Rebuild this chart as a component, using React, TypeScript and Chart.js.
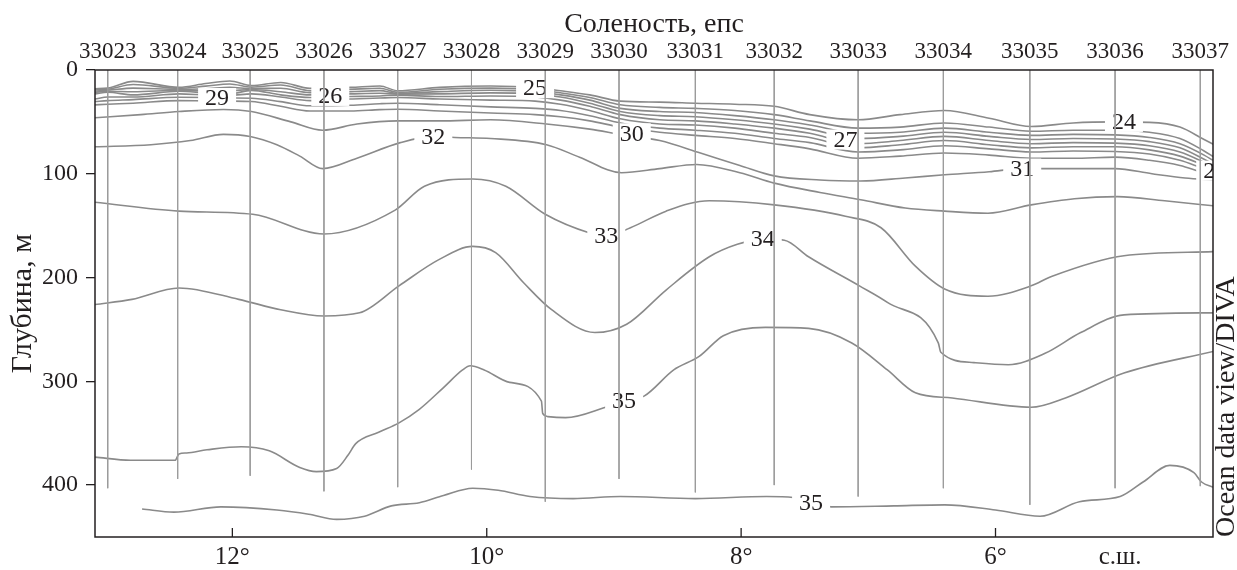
import React, { useEffect, useRef } from 'react';
import { Chart, registerables } from 'chart.js';

Chart.register(...registerables);

const W = 1237;
const H = 570;
const SERIF = '"Liberation Serif", "Times New Roman", serif';
const TEXT = '#231f20';
const CONTOUR = '#8a8a8a';
const STATION = '#9c9c9c';

// axes
const X_MIN = 4.29;
const X_MAX = 13.08;
const Y_MIN = 0;
const Y_MAX = 450;
const xTickValues = [12, 10, 8, 6];
const xUnitLabel = 'с.ш.';
const xUnitLat = 5.02;
const yTickValues = [0, 100, 200, 300, 400];
const topTitle = 'Соленость, епс';
const yTitle = 'Глубина, м';
const sourceNote = 'Ocean data view/DIVA';

// stations (top axis) and cast depths
const stationNames = ['33023', '33024', '33025', '33026', '33027', '33028', '33029', '33030', '33031', '33032', '33033', '33034', '33035', '33036', '33037'];
const stationLats = [12.98, 12.43, 11.86, 11.28, 10.70, 10.12, 9.54, 8.96, 8.36, 7.74, 7.08, 6.41, 5.73, 5.06, 4.39];
const stationBottoms = [403, 394, 391, 406, 402, 385, 416, 394, 407, 400, 411, 403, 419, 403, 401];

// upper (thermocline) isohalines share latitude nodes
const clusterLats = [13.08, 12.98, 12.78, 12.42, 12.21, 12.02, 11.85, 11.62, 11.39, 11.07, 10.84, 10.70, 10.37, 9.97, 9.62, 9.42, 9.19, 8.95, 8.64, 8.36, 8.05, 7.74, 7.46, 7.08, 6.75, 6.40, 6.05, 5.72, 5.39, 5.06, 4.79, 4.55, 4.36, 4.28];
const iso24Depth = [18, 17.5, 11, 16.7, 13, 10.6, 15, 12, 17.6, 16.7, 15.4, 20, 16.7, 15.4, 17, 20, 24, 30, 31, 32, 33, 35, 43, 48, 43, 39, 46.5, 54.5, 51, 50, 50.5, 55, 67, 72];
const iso25Depth = [19, 18.5, 14, 17.6, 15.5, 13.5, 16.5, 14.4, 19.9, 18.6, 17.6, 21.5, 18.6, 17.5, 19, 22, 26.5, 33.5, 36, 37, 39, 43, 49, 56, 55, 51, 55, 59, 58, 58, 60, 66, 78, 84];
const iso26Depth = [20.2, 19.5, 17.5, 18.6, 18, 16.7, 17.9, 17.6, 21.8, 20.8, 19.9, 22.4, 20.8, 19.5, 21, 24, 29, 37, 40, 41, 44, 48, 53, 61, 60, 56, 60, 63, 62, 62.5, 65, 71, 82, 88];
const iso27Depth = [21.5, 20.5, 21, 19.5, 20, 19.9, 18.8, 21, 24, 23, 22.4, 23.2, 23, 22, 23, 26, 32, 40, 44, 45, 48, 52, 57, 66, 64, 60, 64, 67, 66, 66.5, 69, 75, 86, 91];
const iso28Depth = [23, 21.5, 24, 20.5, 22, 23, 19.6, 24, 26.5, 25.6, 25, 24.2, 25.6, 25, 26, 29, 35, 43, 48, 49, 52, 56, 61, 71, 68, 64, 68, 71, 70, 70.5, 73, 79, 89, 94];
const iso29Depth = [28, 26, 26, 23, 24, 24.5, 23, 26, 29.5, 28, 27, 26.5, 28, 29, 30, 33, 39, 47, 52, 53, 56, 61, 65, 75, 72, 68, 72, 75, 74, 74, 77, 83, 92, 96];
const iso30Depth = [30.4, 29.5, 28.5, 26.3, 26.5, 27, 27.2, 30.5, 34.5, 34, 32.5, 32, 33.5, 35.5, 37, 39, 44, 51, 56, 58, 61, 66, 70, 79, 77, 73, 76, 79, 78, 78.5, 81, 87, 95, 98];
const iso30bDepth = [33.6, 33, 32, 29.5, 29.8, 30, 30.4, 35, 39.5, 39.5, 38.2, 37.8, 39.5, 41.5, 43, 45, 49, 55, 60, 63, 66, 71, 76, 85, 83, 80, 82, 85, 85, 84, 87, 92, 99, 101];

// deeper isohalines: [latitude °N, depth m]
type Pt = [number, number];
const iso31: Pt[] = [[13.08, 46], [12.72, 43], [12.42, 40], [12.07, 38], [11.85, 40], [11.54, 50], [11.29, 58], [11.02, 52], [10.70, 49], [10.37, 49], [9.97, 48], [9.53, 52], [9.19, 57], [8.95, 62], [8.64, 68], [8.32, 80], [8.01, 92], [7.74, 102], [7.38, 106], [7.06, 107], [6.71, 104], [6.40, 101], [6.05, 98], [5.79, 95], [5.57, 95], [5.06, 95], [4.77, 100], [4.51, 104], [4.28, 106]];
const iso32: Pt[] = [[13.08, 74], [12.64, 72], [12.33, 68], [12.07, 62], [11.86, 64], [11.65, 72], [11.47, 83], [11.29, 95], [11.02, 85], [10.68, 70], [10.42, 64], [10.25, 65], [9.97, 66], [9.53, 72], [9.27, 84], [8.94, 99], [8.64, 95], [8.35, 91], [8.01, 99], [7.74, 109], [7.38, 118], [7.06, 125], [6.71, 133], [6.40, 136], [6.06, 138], [5.72, 130], [5.38, 124], [5.04, 122], [4.67, 126], [4.28, 131]];
const iso33: Pt[] = [[13.08, 127.5], [12.42, 136], [11.84, 139], [11.28, 158], [10.72, 135], [10.49, 112], [10.11, 105], [9.85, 112], [9.54, 139], [9.19, 157], [9.06, 160], [8.87, 152], [8.59, 136], [8.25, 126], [7.74, 130], [7.18, 141], [6.90, 152], [6.63, 189], [6.40, 211], [6.06, 218], [5.72, 208], [5.56, 199], [4.99, 179], [4.28, 175]];
const iso34: Pt[] = [[13.08, 226], [12.79, 221], [12.42, 210], [11.95, 221], [11.62, 231], [11.28, 237], [11.00, 234], [10.69, 208], [10.38, 183], [10.11, 170], [9.93, 176], [9.71, 205], [9.49, 231], [9.15, 253], [8.90, 245], [8.59, 212], [8.25, 180], [8.03, 168], [7.83, 163], [7.66, 164], [7.47, 180], [7.07, 208], [6.85, 224], [6.45, 263], [6.43, 272], [6.17, 282], [5.90, 284], [5.61, 273], [5.33, 253], [4.99, 236], [4.28, 234]];
const iso35Upper: Pt[] = [[13.08, 373], [12.80, 376], [12.45, 376], [12.42, 370], [12.36, 369], [12.20, 366], [11.93, 363], [11.71, 367], [11.47, 383], [11.34, 387], [11.18, 384], [11.09, 371], [11.03, 360], [10.85, 349], [10.69, 340], [10.53, 327], [10.34, 306], [10.19, 289], [10.13, 285], [10.02, 289], [9.82, 301], [9.57, 319], [9.56, 331], [9.52, 334], [9.38, 335], [9.04, 324], [8.76, 314], [8.53, 289], [8.33, 276], [8.14, 256], [7.81, 248], [7.47, 249], [7.13, 263], [6.85, 289], [6.63, 311], [6.34, 316], [5.72, 325], [5.45, 316], [4.99, 292], [4.28, 271]];
const iso35Lower: Pt[] = [[12.71, 423], [12.46, 426], [12.09, 421], [11.65, 424], [11.40, 428], [11.18, 433], [10.96, 430], [10.75, 420], [10.53, 417], [10.34, 410], [10.11, 403], [9.91, 405], [9.66, 411], [9.32, 413], [8.95, 411], [8.36, 413], [7.80, 411], [7.59, 412], [7.29, 421], [6.80, 420], [6.40, 419], [6.00, 424], [5.65, 430], [5.34, 416], [5.02, 411], [4.84, 397], [4.63, 381], [4.44, 388], [4.38, 397], [4.29, 402]];

// contour labels
const labelTexts = ['29', '26', '25', '30', '27', '24', '31', '2', '32', '33', '34', '35', '35'];
const labelLats = [12.12, 11.23, 9.62, 8.86, 7.18, 4.99, 5.79, 4.32, 10.42, 9.06, 7.83, 8.92, 7.45];
const labelDepths = [27, 25, 17.5, 61, 67, 50, 95, 97, 64, 160, 163, 319, 417];

const clusterDepths = [iso24Depth, iso25Depth, iso26Depth, iso27Depth, iso28Depth, iso29Depth, iso30Depth, iso30bDepth];
const otherLines: Pt[][] = [iso31, iso32, iso33, iso34, iso35Upper, iso35Lower];

const overlayPlugin = {
  id: 'overlay',
  afterDatasetDraw(chart: any, args: any) {
    if (args.index !== 0) return;
    const { ctx, chartArea: a, scales } = chart;
    ctx.save();
    ctx.beginPath();
    ctx.rect(a.left, a.top, a.right - a.left, a.bottom - a.top);
    ctx.clip();
    ctx.font = `24px ${SERIF}`;
    ctx.textAlign = 'center';
    ctx.textBaseline = 'middle';
    labelTexts.forEach((t, i) => {
      const px = scales.x.getPixelForValue(labelLats[i]);
      const py = scales.y.getPixelForValue(labelDepths[i]);
      const w = ctx.measureText(t).width + 14;
      ctx.fillStyle = '#ffffff';
      ctx.fillRect(px - w / 2, py - 10, w, 20);
      ctx.fillStyle = TEXT;
      ctx.fillText(t, px, py + 1);
    });
    ctx.restore();
  },
  afterDatasetsDraw(chart: any) {
    const { ctx, chartArea: a, scales } = chart;
    ctx.save();
    ctx.strokeStyle = TEXT;
    ctx.lineWidth = 1.5;
    ctx.strokeRect(a.left, a.top, a.right - a.left, a.bottom - a.top);
    ctx.lineWidth = 1.3;
    xTickValues.forEach((v) => {
      const px = scales.x.getPixelForValue(v);
      ctx.beginPath();
      ctx.moveTo(px, a.bottom);
      ctx.lineTo(px, a.bottom - 9);
      ctx.stroke();
    });
    ctx.translate(a.right + 14, a.bottom);
    ctx.rotate(-Math.PI / 2);
    ctx.font = `28px ${SERIF}`;
    ctx.textAlign = 'left';
    ctx.textBaseline = 'middle';
    ctx.fillStyle = TEXT;
    ctx.fillText(sourceNote, 0, 0);
    ctx.restore();
  },
};

export default function App() {
  const ref = useRef<HTMLCanvasElement | null>(null);

  useEffect(() => {
    if (!ref.current) return;
    const contourStyle = {
      borderColor: CONTOUR,
      borderWidth: 1.6,
      pointRadius: 0,
      fill: false,
      cubicInterpolationMode: 'monotone' as const,
      order: 2,
    };
    const datasets: any[] = [];
    clusterDepths.forEach((dep) => {
      datasets.push({ ...contourStyle, data: clusterLats.map((x, i) => ({ x, y: dep[i] })) });
    });
    otherLines.forEach((line) => {
      datasets.push({ ...contourStyle, data: line.map(([x, y]) => ({ x, y })) });
    });
    stationLats.forEach((lat, i) => {
      datasets.push({
        borderColor: STATION,
        borderWidth: 1,
        pointRadius: 0,
        fill: false,
        tension: 0,
        order: 1,
        data: [{ x: lat, y: 0 }, { x: lat, y: stationBottoms[i] }],
      });
    });

    const chart = new Chart(ref.current, {
      type: 'line',
      data: { datasets },
      options: {
        animation: false,
        responsive: false,
        events: [],
        layout: { padding: { left: 0, right: 24, top: 0, bottom: 0 } },
        plugins: { legend: { display: false }, tooltip: { enabled: false } },
        scales: {
          x: {
            type: 'linear',
            position: 'bottom',
            min: X_MIN,
            max: X_MAX,
            reverse: true,
            afterBuildTicks: (s: any) => {
              s.ticks = [...xTickValues, xUnitLat].map((v) => ({ value: v }));
            },
            afterFit: (s: any) => {
              s.height = 33;
            },
            grid: { display: false, drawTicks: false },
            border: { display: false },
            ticks: {
              autoSkip: false,
              maxRotation: 0,
              padding: 5,
              color: TEXT,
              font: { family: SERIF, size: 25 },
              callback: (v: any) => (v === xUnitLat ? xUnitLabel : `${v}°`),
            },
          },
          xTop: {
            type: 'linear',
            position: 'top',
            min: X_MIN,
            max: X_MAX,
            reverse: true,
            afterBuildTicks: (s: any) => {
              s.ticks = stationLats.map((v) => ({ value: v }));
            },
            afterFit: (s: any) => {
              s.height = 70;
            },
            grid: { display: false, drawTicks: false },
            border: { display: false },
            ticks: {
              autoSkip: false,
              maxRotation: 0,
              padding: 4,
              color: TEXT,
              font: { family: SERIF, size: 23 },
              callback: (_v: any, i: number) => stationNames[i],
            },
            title: {
              display: true,
              text: topTitle,
              color: TEXT,
              font: { family: SERIF, size: 28 },
              padding: { top: 8, bottom: 0 },
            },
          },
          y: {
            type: 'linear',
            min: Y_MIN,
            max: Y_MAX,
            reverse: true,
            afterBuildTicks: (s: any) => {
              s.ticks = yTickValues.map((v) => ({ value: v }));
            },
            afterFit: (s: any) => {
              s.width = 95;
            },
            grid: { drawOnChartArea: false, drawTicks: true, tickLength: 9, color: TEXT, lineWidth: 1.3 },
            border: { display: false },
            ticks: { padding: 8, color: TEXT, font: { family: SERIF, size: 24 } },
            title: {
              display: true,
              text: yTitle,
              color: TEXT,
              font: { family: SERIF, size: 30 },
              padding: { top: 5, bottom: 0 },
            },
          },
        },
      } as any,
      plugins: [overlayPlugin],
    });
    return () => chart.destroy();
  }, []);

  return (
    <div style={{ position: 'fixed', left: 0, top: 0, width: W, height: H, background: '#ffffff' }}>
      <canvas ref={ref} width={W} height={H} style={{ width: W, height: H, display: 'block' }} />
    </div>
  );
}
